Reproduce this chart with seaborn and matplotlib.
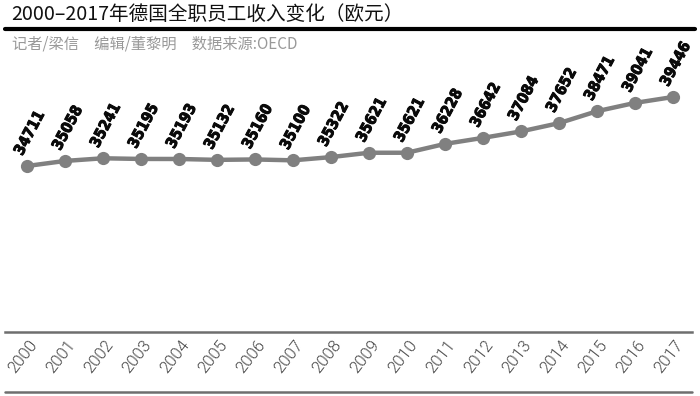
import matplotlib
matplotlib.use("Agg")
import matplotlib.pyplot as plt
import matplotlib.transforms as mtransforms
import matplotlib.patheffects as pe
from matplotlib.lines import Line2D
from matplotlib import font_manager as fm
import seaborn as sns
import pandas as pd

years = [str(y) for y in range(2000, 2018)]
income = [34711, 35058, 35241, 35195, 35193, 35132, 35160, 35100, 35322,
          35621, 35621, 36228, 36642, 37084, 37652, 38471, 39041, 39446]
title = "2000–2017年德国全职员工收入变化（欧元）"
subtitle = "记者/梁信　编辑/董黎明　数据来源:OECD"

sns.set_theme(style="white")
plt.rcParams['font.family'] = ['Noto Sans CJK SC', 'DejaVu Sans']


def find_font(cands):
    for name, pred in cands:
        for f in fm.fontManager.ttflist:
            if f.name == name and pred(f):
                return fm.FontProperties(fname=f.fname)
    return None


def wnum(f):
    w = f.weight
    if isinstance(w, str):
        return {"bold": 700, "normal": 400, "light": 300, "regular": 400}.get(w, 400)
    return w


def upright(f):
    n = f.fname.lower()
    return f.style == "normal" and "oblique" not in n and "italic" not in n


label_fp = find_font([
    ("Liberation Sans Narrow", lambda f: wnum(f) >= 700 and upright(f)),
    ("DejaVu Sans", lambda f: "Condensed" in f.fname and "Bold" in f.fname and upright(f)),
    ("Roboto Condensed", lambda f: wnum(f) >= 700 and upright(f)),
])
if label_fp is None:
    label_fp = fm.FontProperties(family="DejaVu Sans", weight="bold")
label_fp.set_size(11)

year_fp = find_font([
    ("Roboto", lambda f: wnum(f) == 300 and upright(f)),
    ("Lato", lambda f: wnum(f) == 300 and upright(f)),
    ("Open Sans", lambda f: wnum(f) == 300 and upright(f)),
])
if year_fp is None:
    year_fp = fm.FontProperties(family="Liberation Sans")
year_fp.set_size(12)

W, H = 700, 396
fig = plt.figure(figsize=(W / 100, H / 100), dpi=100)
fig.patch.set_facecolor("white")


def fx(px):
    return px / W


def fy(py):
    return (H - py) / H


ax = fig.add_axes([fx(5), fy(332), fx(692 - 5), fy(60) - fy(332)])
df = pd.DataFrame({"idx": range(len(years)), "income": income})
sns.lineplot(data=df, x="idx", y="income", ax=ax, color="#808080",
             linewidth=3.2, marker="o", markersize=9.5, markeredgewidth=0,
             markerfacecolor="#808080")

k = (166 - 97) / (39446 - 34711)
ybot = 34711 - (332 - 166) / k
ytop = 39446 + (97 - 60) / k
ax.set_ylim(ybot, ytop)
sp = 38.0
ax.set_xlim(-(27 - 5) / sp, 17 + (692 - 673) / sp)
ax.set_xticks([])
ax.set_yticks([])
ax.set_xlabel("")
ax.set_ylabel("")
for s in ["top", "left", "right"]:
    ax.spines[s].set_visible(False)
ax.spines["bottom"].set_color("#6e6e6e")
ax.spines["bottom"].set_linewidth(1.8)

for i, v in enumerate(income):
    off = mtransforms.offset_copy(ax.transData, fig=fig, x=2.5, y=33, units="dots")
    ax.text(i, v, str(v), transform=off, rotation=62, ha="center", va="center",
            fontproperties=label_fp, color="#0a0a0a", rotation_mode="anchor",
            path_effects=[pe.withStroke(linewidth=0.7, foreground="#0a0a0a")])

tr = mtransforms.blended_transform_factory(ax.transData, fig.transFigure)
for i, y in enumerate(years):
    off = mtransforms.offset_copy(tr, fig=fig, x=-4, y=0, units="dots")
    ax.text(i, fy(357), y, transform=off, rotation=52, ha="center", va="center",
            fontproperties=year_fp, color="#444444", clip_on=False,
            rotation_mode="anchor")

fig.add_artist(Line2D([fx(5), fx(692)], [fy(392), fy(392)], color="#6e6e6e",
                      linewidth=1.8, transform=fig.transFigure))
fig.add_artist(Line2D([fx(5), fx(695)], [fy(29), fy(29)], color="#000000",
                      linewidth=3.0, transform=fig.transFigure))

fig.text(fx(11), fy(14), title, fontsize=14.1, color="#111111", ha="left", va="center")
fig.text(fx(12), fy(44), subtitle, fontsize=11, color="#999999", ha="left", va="center")

fig.savefig("out.png", dpi=100, facecolor="white")
